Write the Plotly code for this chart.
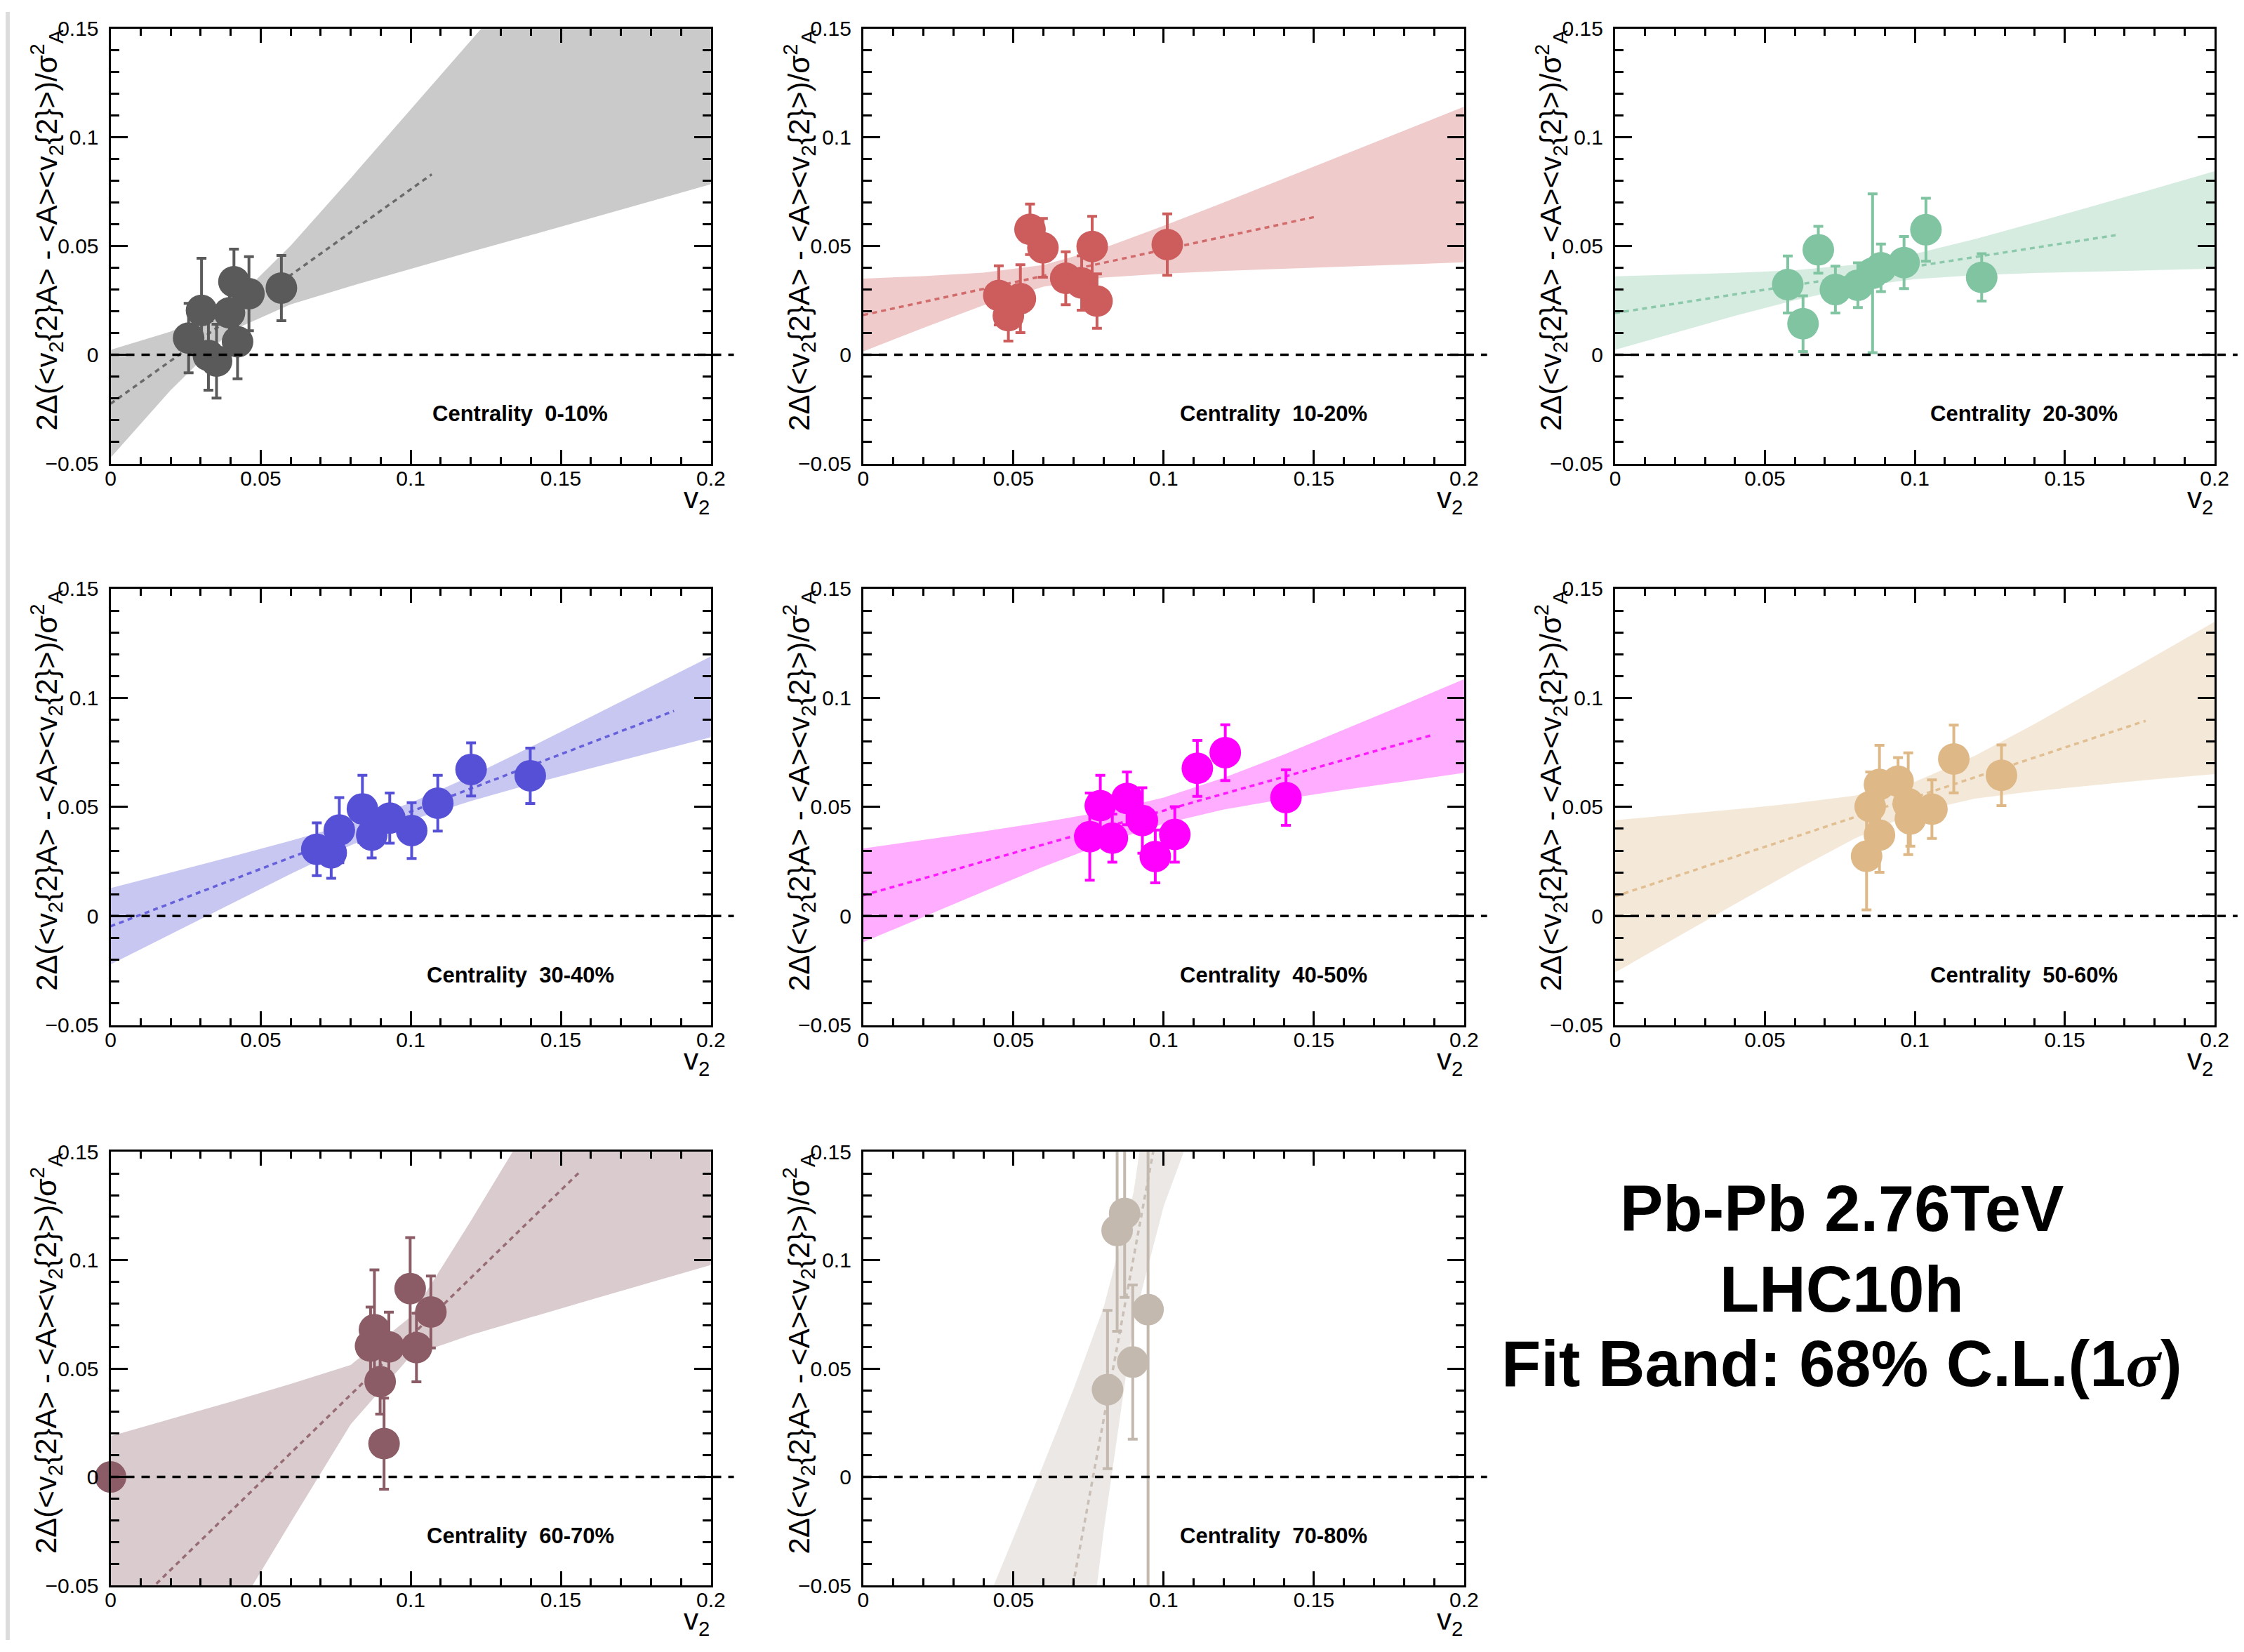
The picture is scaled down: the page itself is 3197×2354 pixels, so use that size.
import plotly.graph_objects as go

W, H = 3197, 2354

# ---------------- data ----------------
centralities = ["0-10%", "10-20%", "20-30%", "30-40%", "40-50%", "50-60%", "60-70%", "70-80%"]
colors = ["#5a5a5a", "#cd5c5c", "#80c4a2", "#5550d6", "#ff00ff", "#deb887", "#8c5c66", "#c4b9af"]
band_rgb = ["90,90,90", "205,92,92", "128,196,162", "85,80,214", "255,0,255", "222,184,135", "140,92,102", "196,185,175"]

x_ticks = [0, 0.05, 0.1, 0.15, 0.2]
x_ticktext = ["0", "0.05", "0.1", "0.15", "0.2"]
y_ticks = [-0.05, 0, 0.05, 0.1, 0.15]
y_ticktext = ["\u22120.05", "0", "0.05", "0.1", "0.15"]

band_x = [0, 0.02, 0.04, 0.06, 0.08, 0.10, 0.12, 0.14, 0.16, 0.18, 0.20]
band_x_7080 = [0.03, 0.04, 0.05, 0.06, 0.07, 0.08, 0.09, 0.10, 0.11, 0.12]

# 0-10%
c0010_v2 = [0.0260, 0.0303, 0.0326, 0.0353, 0.0396, 0.0411, 0.0423, 0.0461, 0.0569]
c0010_val = [0.0077, 0.0204, -0.0003, -0.0029, 0.0193, 0.0336, 0.0060, 0.0281, 0.0307]
c0010_err = [0.016, 0.024, 0.016, 0.017, 0.015, 0.015, 0.017, 0.017, 0.015]
c0010_lo = [-0.0473, -0.0163, 0.0109, 0.0232, 0.0316, 0.0395, 0.0474, 0.0550, 0.0629, 0.0706, 0.0784]
c0010_hi = [0.0023, 0.0107, 0.0229, 0.0502, 0.0812, 0.1127, 0.1442, 0.1760, 0.2077, 0.2394, 0.2710]
c0010_fit_x = [0.0, 0.107]
c0010_fit_y = [-0.0225, 0.083]

# 10-20%
c1020_v2 = [0.0451, 0.0483, 0.0523, 0.0555, 0.0598, 0.0674, 0.0727, 0.0762, 0.0778, 0.1012]
c1020_val = [0.0273, 0.0180, 0.0258, 0.0577, 0.0492, 0.0352, 0.0330, 0.0498, 0.0247, 0.0507]
c1020_err = [0.0136, 0.0117, 0.0156, 0.0116, 0.0135, 0.0122, 0.0125, 0.0139, 0.0125, 0.0141]
c1020_lo = [0.0016, 0.0124, 0.0228, 0.0313, 0.0355, 0.0373, 0.0386, 0.0396, 0.0406, 0.0416, 0.0425]
c1020_hi = [0.0350, 0.0362, 0.0378, 0.0413, 0.0491, 0.0593, 0.0700, 0.0810, 0.0920, 0.1030, 0.1141]
c1020_fit_x = [0.0, 0.15]
c1020_fit_y = [0.0183, 0.0633]

# 20-30%
c2030_v2 = [0.0576, 0.0627, 0.0678, 0.0735, 0.0810, 0.0859, 0.0887, 0.0964, 0.1037, 0.1223]
c2030_val = [0.0323, 0.0143, 0.0483, 0.0300, 0.0320, 0.0375, 0.0400, 0.0424, 0.0575, 0.0356]
c2030_err = [0.0131, 0.0128, 0.0108, 0.0108, 0.0103, 0.0365, 0.0109, 0.0120, 0.0145, 0.0109]
c2030_lo = [0.0023, 0.0102, 0.0179, 0.0251, 0.0312, 0.0348, 0.0366, 0.0376, 0.0383, 0.0390, 0.0396]
c2030_hi = [0.0361, 0.0368, 0.0377, 0.0389, 0.0414, 0.0464, 0.0532, 0.0608, 0.0685, 0.0764, 0.0844]
c2030_fit_x = [0.0, 0.167]
c2030_fit_y = [0.0192, 0.055]

# 30-40%
c3040_v2 = [0.0687, 0.0735, 0.0762, 0.0839, 0.0870, 0.0930, 0.1003, 0.1090, 0.1201, 0.1398]
c3040_val = [0.0306, 0.0290, 0.0394, 0.0491, 0.0371, 0.0449, 0.0392, 0.0517, 0.0672, 0.0643]
c3040_err = [0.0121, 0.0117, 0.0149, 0.0154, 0.0105, 0.0115, 0.0128, 0.0128, 0.0122, 0.0127]
c3040_lo = [-0.0222, -0.0083, 0.0055, 0.0193, 0.0324, 0.0439, 0.0527, 0.0605, 0.0677, 0.0749, 0.0820]
c3040_hi = [0.0128, 0.0199, 0.0271, 0.0345, 0.0424, 0.0519, 0.0641, 0.0775, 0.0913, 0.1051, 0.1190]
c3040_fit_x = [0.0, 0.1877]
c3040_fit_y = [-0.0047, 0.094]

# 40-50%
c4050_v2 = [0.0754, 0.0789, 0.0829, 0.0878, 0.0929, 0.0972, 0.1037, 0.1112, 0.1205, 0.1407]
c4050_val = [0.0364, 0.0506, 0.0357, 0.0539, 0.0438, 0.0273, 0.0374, 0.0677, 0.0749, 0.0543]
c4050_err = [0.0200, 0.0139, 0.0110, 0.0121, 0.0150, 0.0121, 0.0127, 0.0128, 0.0128, 0.0127]
c4050_lo = [-0.0120, -0.0003, 0.0112, 0.0226, 0.0332, 0.0423, 0.0488, 0.0536, 0.0578, 0.0617, 0.0656]
c4050_hi = [0.0310, 0.0349, 0.0388, 0.0430, 0.0478, 0.0543, 0.0634, 0.0740, 0.0854, 0.0969, 0.1086]
c4050_fit_x = [0.0, 0.19]
c4050_fit_y = [0.0095, 0.0832]

# 50-60%
c5060_v2 = [0.0839, 0.0851, 0.0882, 0.0882, 0.0944, 0.0978, 0.0985, 0.1057, 0.1130, 0.1289]
c5060_val = [0.0274, 0.0502, 0.0371, 0.0603, 0.0618, 0.0515, 0.0445, 0.0490, 0.0720, 0.0645]
c5060_err = [0.0246, 0.0158, 0.0171, 0.0180, 0.0108, 0.0233, 0.0125, 0.0134, 0.0155, 0.0139]
c5060_lo = [-0.0259, -0.0101, 0.0055, 0.0209, 0.0356, 0.0475, 0.0538, 0.0573, 0.0601, 0.0627, 0.0651]
c5060_hi = [0.0439, 0.0463, 0.0489, 0.0517, 0.0552, 0.0615, 0.0734, 0.0881, 0.1035, 0.1191, 0.1349]
c5060_fit_x = [0.0, 0.177]
c5060_fit_y = [0.009, 0.0895]

# 60-70%
c6070_v2 = [0.0, 0.0866, 0.0879, 0.0898, 0.0911, 0.0927, 0.0998, 0.1019, 0.1067]
c6070_val = [0.0, 0.0604, 0.0679, 0.0440, 0.0154, 0.0600, 0.0869, 0.0597, 0.0761]
c6070_err = [0.0, 0.0180, 0.0276, 0.0150, 0.0210, 0.0160, 0.0235, 0.0158, 0.0166]
c6070_lo = [-0.1584, -0.1125, -0.0667, -0.0209, 0.0243, 0.0559, 0.0655, 0.0737, 0.0818, 0.0898, 0.0978]
c6070_hi = [0.0188, 0.0267, 0.0347, 0.0429, 0.0517, 0.0739, 0.1181, 0.1639, 0.2096, 0.2556, 0.3014]
c6070_fit_x = [0.0, 0.1565]
c6070_fit_y = [-0.0698, 0.141]

# 70-80%
c7080_v2 = [0.0813, 0.0845, 0.0870, 0.0897, 0.0948]
c7080_val = [0.0403, 0.1137, 0.1216, 0.0530, 0.0772]
c7080_err = [0.0365, 0.0465, 0.0388, 0.0356, 0.1500]
c7080_lo = [-0.602, -0.4854, -0.369, -0.2529, -0.1376, -0.0251, 0.0715, 0.1249, 0.1624, 0.1971]
c7080_hi = [-0.095, -0.0616, -0.028, 0.0059, 0.0406, 0.0781, 0.1315, 0.2281, 0.3406, 0.4559]
c7080_fit_x = [0.0698, 0.0965]
c7080_fit_y = [-0.05, 0.15]

panels = [
    (c0010_v2, c0010_val, c0010_err, band_x, c0010_lo, c0010_hi, c0010_fit_x, c0010_fit_y),
    (c1020_v2, c1020_val, c1020_err, band_x, c1020_lo, c1020_hi, c1020_fit_x, c1020_fit_y),
    (c2030_v2, c2030_val, c2030_err, band_x, c2030_lo, c2030_hi, c2030_fit_x, c2030_fit_y),
    (c3040_v2, c3040_val, c3040_err, band_x, c3040_lo, c3040_hi, c3040_fit_x, c3040_fit_y),
    (c4050_v2, c4050_val, c4050_err, band_x, c4050_lo, c4050_hi, c4050_fit_x, c4050_fit_y),
    (c5060_v2, c5060_val, c5060_err, band_x, c5060_lo, c5060_hi, c5060_fit_x, c5060_fit_y),
    (c6070_v2, c6070_val, c6070_err, band_x, c6070_lo, c6070_hi, c6070_fit_x, c6070_fit_y),
    (c7080_v2, c7080_val, c7080_err, band_x_7080, c7080_lo, c7080_hi, c7080_fit_x, c7080_fit_y),
]

# ---------------- layout geometry ----------------
col_dom = [(0.0472, 0.3172), (0.3857, 0.6559), (0.7238, 0.9934)]
row_dom = [(0.7226, 0.9898), (0.3777, 0.6457), (0.0336, 0.2999)]
X_RANGE = [0, 0.2]
Y_RANGE = [-0.05, 0.15]

FONT = "Liberation Sans, Arial, Helvetica, sans-serif"
YTITLE = ("2\u0394(&lt;v<sub>2</sub>{2}A&gt; - &lt;A&gt;&lt;v<sub>2</sub>{2}&gt;)"
          "/\u03c3<sup>2</sup><sub>A</sub>")

fig = go.Figure()
annotations = []
shapes = []
layout_axes = {}

for i, (vx, vy, ve, bx, blo, bhi, fx, fy) in enumerate(panels):
    r, c = divmod(i, 3)
    n = i + 1
    xa = "x" if n == 1 else f"x{n}"
    ya = "y" if n == 1 else f"y{n}"
    col = colors[i]
    rgb = band_rgb[i]

    # fit band
    fig.add_trace(go.Scatter(x=bx, y=blo, mode="lines", line=dict(width=0, color=col),
                             xaxis=xa, yaxis=ya, showlegend=False, hoverinfo="skip"))
    fig.add_trace(go.Scatter(x=bx, y=bhi, mode="lines", line=dict(width=0, color=col),
                             fill="tonexty", fillcolor=f"rgba({rgb},0.32)",
                             xaxis=xa, yaxis=ya, showlegend=False, hoverinfo="skip"))
    # fit line
    fig.add_trace(go.Scatter(x=fx, y=fy, mode="lines",
                             line=dict(width=3.5, color=col, dash="7px,6px"),
                             opacity=0.85, xaxis=xa, yaxis=ya, showlegend=False))
    # data points
    fig.add_trace(go.Scatter(x=vx, y=vy, mode="markers",
                             marker=dict(size=45, color=col, line=dict(width=0)),
                             error_y=dict(type="data", array=ve, color=col, thickness=4, width=7),
                             cliponaxis=(i == 7),
                             xaxis=xa, yaxis=ya, showlegend=False))

    xd = col_dom[c]
    yd = row_dom[r]
    axis_common = dict(showline=True, linewidth=3, linecolor="black", mirror="ticks",
                       ticks="inside", tickwidth=3, tickcolor="black", showgrid=False,
                       zeroline=False, tickfont=dict(family=FONT, size=30, color="black"))
    layout_axes[f"xaxis{'' if n == 1 else n}"] = dict(
        domain=list(xd), range=X_RANGE, anchor=ya, tickvals=x_ticks, ticktext=x_ticktext,
        ticklen=20, ticklabelstandoff=-8,
        minor=dict(dtick=0.01, tick0=0, ticks="inside", ticklen=10, tickwidth=3,
                   tickcolor="black", showgrid=False),
        **axis_common)
    layout_axes[f"yaxis{'' if n == 1 else n}"] = dict(
        domain=list(yd), range=Y_RANGE, anchor=xa, tickvals=y_ticks, ticktext=y_ticktext,
        ticklen=24, ticklabelstandoff=8,
        minor=dict(dtick=0.01, tick0=0, ticks="inside", ticklen=12, tickwidth=3,
                   tickcolor="black", showgrid=False),
        **axis_common)

    # dashed zero line (extends slightly past the right frame)
    y0p = yd[0] + (0 - Y_RANGE[0]) / (Y_RANGE[1] - Y_RANGE[0]) * (yd[1] - yd[0])
    shapes.append(dict(type="line", xref="paper", yref="paper", x0=xd[0], x1=xd[1] + 33 / W,
                       y0=y0p, y1=y0p, line=dict(color="black", width=3.5, dash="12px,10px"),
                       layer="above"))

    # y title
    annotations.append(dict(text=YTITLE, xref="paper", yref="paper",
                            x=xd[0] - 93 / W, y=yd[1], xanchor="center", yanchor="top",
                            textangle=-90, showarrow=False,
                            font=dict(family=FONT, size=42, color="black")))
    # x title
    annotations.append(dict(text="v<sub>2</sub>", xref="paper", yref="paper",
                            x=xd[1], y=yd[0], xanchor="right", yanchor="top", yshift=-23,
                            showarrow=False, font=dict(family=FONT, size=42, color="black")))
    # centrality label
    annotations.append(dict(text=f"<b>Centrality\u00a0 {centralities[i]}</b>", xref=xa, yref=ya,
                            x=0.1365, y=-0.027, xanchor="center", yanchor="middle",
                            showarrow=False, font=dict(family=FONT, size=31, color="black")))

# big info text
info_lines = ["<b>Pb-Pb 2.76TeV</b>", "<b>LHC10h</b>",
              "<b>Fit Band: 68% C.L.(1<span style=\"font-family:'Liberation Serif', serif\"><i>\u03c3</i></span>)</b>"]
info_y = [1730, 1847, 1955]
for t, yy in zip(info_lines, info_y):
    annotations.append(dict(text=t, xref="paper", yref="paper", x=2640 / W, y=1 - yy / H,
                            xanchor="center", yanchor="middle", showarrow=False,
                            font=dict(family=FONT, size=92, color="black")))

# thin grey strip at left page edge
shapes.append(dict(type="rect", xref="paper", yref="paper", x0=0, x1=6 / W, y0=0, y1=1,
                   fillcolor="#dcdcdc", line=dict(width=0), layer="below"))

fig.update_layout(width=W, height=H, margin=dict(l=0, r=0, t=0, b=0),
                  paper_bgcolor="white", plot_bgcolor="white",
                  annotations=annotations, shapes=shapes, showlegend=False,
                  font=dict(family=FONT), **layout_axes)

fig.write_html("out.html")
